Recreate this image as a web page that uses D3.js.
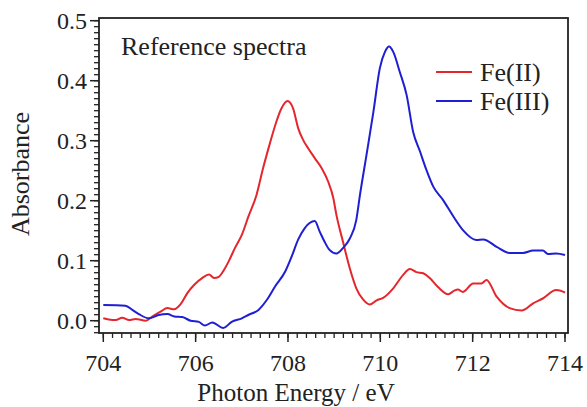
<!DOCTYPE html>
<html>
<head>
<meta charset="utf-8">
<script src="https://cdn.jsdelivr.net/npm/d3@7"></script>
</head>
<body style="margin:0; background:#fff">
<svg id="chart" width="587" height="407"></svg>
<script>
const fe2Energy = [704.0, 704.12, 704.27, 704.41, 704.56, 704.7, 704.92, 705.06, 705.24, 705.39, 705.53, 705.68, 705.82, 705.97, 706.14, 706.29, 706.4, 706.5, 706.61, 706.71, 706.85, 707.0, 707.14, 707.32, 707.46, 707.61, 707.75, 707.86, 707.99, 708.11, 708.22, 708.33, 708.44, 708.58, 708.73, 708.87, 708.98, 709.05, 709.19, 709.34, 709.48, 709.63, 709.77, 709.92, 710.06, 710.28, 710.49, 710.64, 710.78, 710.93, 711.07, 711.25, 711.47, 711.6, 711.68, 711.79, 712.01, 712.19, 712.3, 712.52, 712.8, 713.06, 713.31, 713.52, 713.81, 714.0];
const fe2Abs = [0.004, 0.002, 0.001, 0.005, 0.001, 0.003, 0.0, 0.007, 0.015, 0.021, 0.019, 0.028, 0.046, 0.06, 0.071, 0.077, 0.071, 0.073, 0.084, 0.098, 0.121, 0.143, 0.173, 0.21, 0.254, 0.296, 0.332, 0.354, 0.366, 0.354, 0.321, 0.301, 0.287, 0.271, 0.254, 0.232, 0.205, 0.176, 0.132, 0.087, 0.054, 0.035, 0.027, 0.034, 0.038, 0.054, 0.076, 0.086, 0.081, 0.079, 0.071, 0.056, 0.044, 0.05, 0.052, 0.048, 0.062, 0.062, 0.068, 0.04, 0.021, 0.017, 0.029, 0.037, 0.051, 0.047];

const fe3Energy = [704.0, 704.48, 704.63, 704.77, 704.99, 705.2, 705.39, 705.54, 705.71, 705.89, 706.07, 706.2, 706.36, 706.6, 706.78, 707.0, 707.14, 707.36, 707.54, 707.72, 707.94, 708.08, 708.22, 708.36, 708.58, 708.69, 708.79, 708.9, 709.05, 709.19, 709.34, 709.48, 709.56, 709.7, 709.85, 709.99, 710.1, 710.19, 710.28, 710.42, 710.57, 710.71, 710.86, 711.0, 711.15, 711.36, 711.58, 711.79, 712.08, 712.23, 712.52, 712.8, 713.09, 713.31, 713.52, 713.63, 713.81, 714.0];
const fe3Abs = [0.026, 0.025, 0.018, 0.011, 0.004, 0.0095, 0.011, 0.007, 0.006, 0.0, -0.002, -0.008, -0.003, -0.012, -0.002, 0.004, 0.0095, 0.018, 0.0345, 0.057, 0.082, 0.107, 0.135, 0.154, 0.166, 0.148, 0.132, 0.118, 0.112, 0.121, 0.137, 0.168, 0.21, 0.276, 0.348, 0.421, 0.448, 0.457, 0.448, 0.415, 0.376, 0.315, 0.282, 0.251, 0.223, 0.201, 0.174, 0.151, 0.1345, 0.1355, 0.123, 0.113, 0.113, 0.117, 0.117, 0.111, 0.112, 0.1095];

const xTicks = [704, 706, 708, 710, 712, 714];
const yTicks = [0.0, 0.1, 0.2, 0.3, 0.4, 0.5];
const seriesNames = ["Fe(II)", "Fe(III)"];
const seriesColors = ["#e4262d", "#1e1ed2"];

const svg = d3.select("#chart");
const frame = { left: 99, right: 568, top: 18, bottom: 333 };
const serif = '"Liberation Serif"';

const x = d3.scaleLinear().domain([704, 714]).range([103.3, 565]);
const y = d3.scaleLinear().domain([0, 0.5]).range([320.7, 20.7]);

// minor ticks
const xMinor = d3.range(0, 51).map((i) => 704 + i * 0.2);
const yMinor = d3.range(-2, 51).map((i) => i / 100);

const ink = "#222";

const xAxis = svg
  .append("g")
  .attr("transform", `translate(0,${frame.bottom})`);
xAxis
  .selectAll("line.minor")
  .data(xMinor)
  .enter()
  .append("line")
  .attr("class", "minor")
  .attr("x1", (d) => x(d))
  .attr("x2", (d) => x(d))
  .attr("y1", 0)
  .attr("y2", 5)
  .attr("stroke", ink)
  .attr("stroke-width", 1.3);
xAxis
  .selectAll("line.major")
  .data(xTicks)
  .enter()
  .append("line")
  .attr("class", "major")
  .attr("x1", (d) => x(d))
  .attr("x2", (d) => x(d))
  .attr("y1", 0)
  .attr("y2", 9)
  .attr("stroke", ink)
  .attr("stroke-width", 1.5);
xAxis
  .selectAll("text")
  .data(xTicks)
  .enter()
  .append("text")
  .attr("x", (d) => x(d))
  .attr("y", 38)
  .attr("text-anchor", "middle")
  .style("font-family", serif)
  .attr("font-size", 24)
  .attr("fill", "#222")
  .text((d) => d);

const yAxis = svg
  .append("g")
  .attr("transform", `translate(${frame.left},0)`);
yAxis
  .selectAll("line.minor")
  .data(yMinor)
  .enter()
  .append("line")
  .attr("class", "minor")
  .attr("x1", -5)
  .attr("x2", 0)
  .attr("y1", (d) => y(d))
  .attr("y2", (d) => y(d))
  .attr("stroke", ink)
  .attr("stroke-width", 1.3);
yAxis
  .selectAll("line.major")
  .data(yTicks)
  .enter()
  .append("line")
  .attr("class", "major")
  .attr("x1", -9)
  .attr("x2", 0)
  .attr("y1", (d) => y(d))
  .attr("y2", (d) => y(d))
  .attr("stroke", ink)
  .attr("stroke-width", 1.5);
yAxis
  .selectAll("text")
  .data(yTicks)
  .enter()
  .append("text")
  .attr("x", -12)
  .attr("y", (d) => y(d))
  .attr("dy", "0.35em")
  .attr("text-anchor", "end")
  .style("font-family", serif)
  .attr("font-size", 24)
  .attr("fill", "#222")
  .text((d) => d3.format(".1f")(d));

svg
  .append("rect")
  .attr("x", frame.left)
  .attr("y", frame.top)
  .attr("width", frame.right - frame.left)
  .attr("height", frame.bottom - frame.top)
  .attr("fill", "none")
  .attr("stroke", ink)
  .attr("stroke-width", 1.8);

const line = d3
  .line()
  .x((d) => x(d[0]))
  .y((d) => y(d[1]))
  .curve(d3.curveMonotoneX);

const series = [
  d3.zip(fe2Energy, fe2Abs),
  d3.zip(fe3Energy, fe3Abs)
];

svg
  .selectAll("path.spec")
  .data(series)
  .enter()
  .append("path")
  .attr("class", "spec")
  .attr("d", line)
  .attr("fill", "none")
  .attr("stroke", (d, i) => seriesColors[i])
  .attr("stroke-width", 2)
  .attr("stroke-linejoin", "round");

svg
  .append("text")
  .attr("x", 121)
  .attr("y", 55)
  .style("font-family", serif)
  .attr("font-size", 26)
  .attr("fill", "#222")
  .text("Reference spectra");

const legend = svg
  .selectAll("g.legend")
  .data(seriesNames)
  .enter()
  .append("g")
  .attr("class", "legend")
  .attr("transform", (d, i) => `translate(436,${72 + i * 29})`);
legend
  .append("line")
  .attr("x1", 0)
  .attr("x2", 36)
  .attr("stroke", (d, i) => seriesColors[i])
  .attr("stroke-width", 2);
legend
  .append("text")
  .attr("x", 44)
  .attr("y", 8.5)
  .style("font-family", serif)
  .attr("font-size", 26)
  .attr("fill", "#222")
  .text((d) => d);

svg
  .append("text")
  .attr("x", 296)
  .attr("y", 401)
  .attr("text-anchor", "middle")
  .style("font-family", serif)
  .attr("font-size", 25)
  .attr("fill", "#222")
  .text("Photon Energy / eV");

svg
  .append("text")
  .attr("transform", "translate(29,174) rotate(-90)")
  .attr("text-anchor", "middle")
  .style("font-family", serif)
  .attr("font-size", 26)
  .attr("fill", "#222")
  .text("Absorbance");
</script>
</body>
</html>
